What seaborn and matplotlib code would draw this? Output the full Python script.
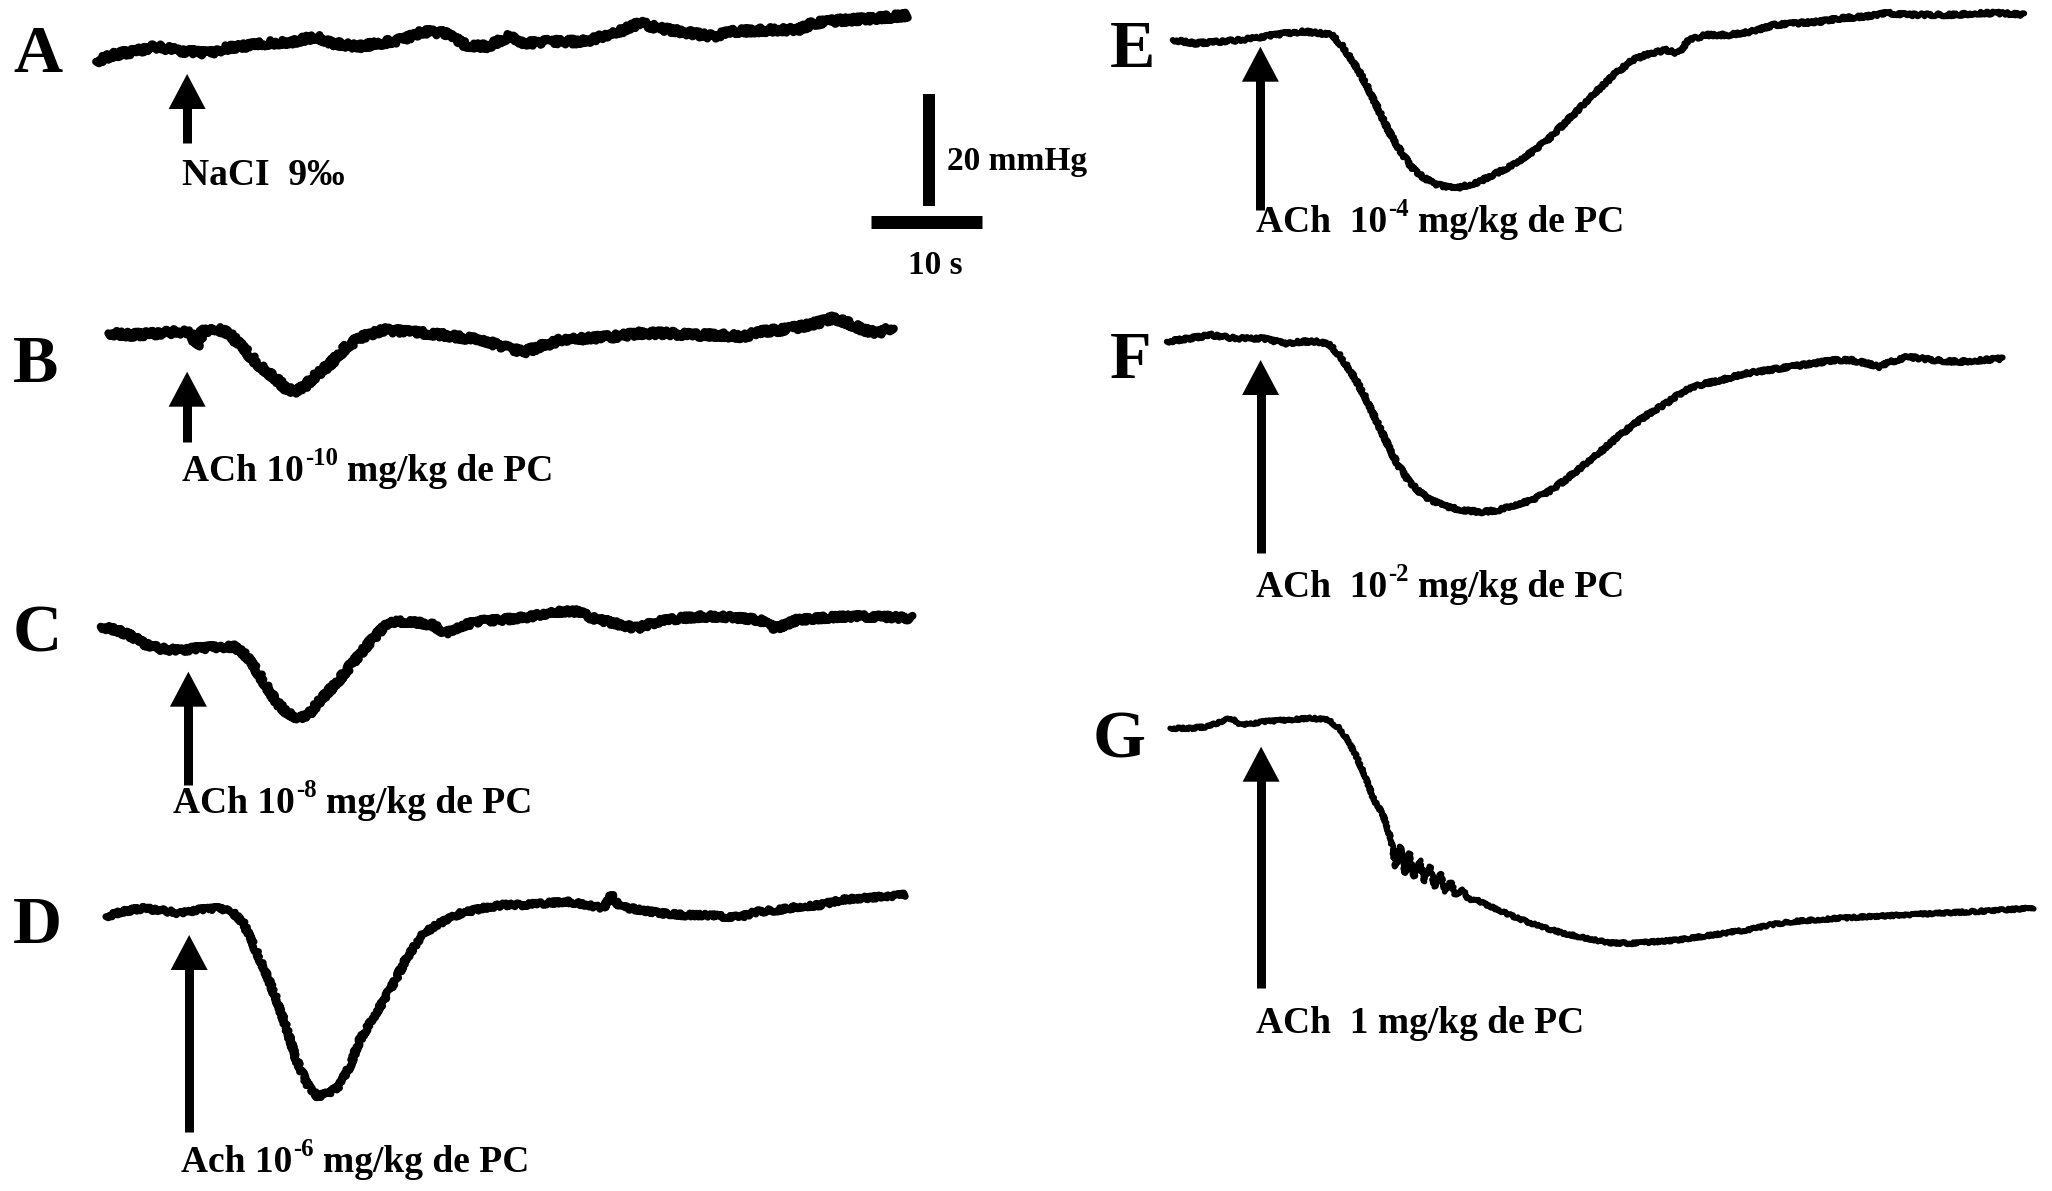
import numpy as np
import pandas as pd
import matplotlib
matplotlib.use("Agg")
import matplotlib.pyplot as plt
from matplotlib.patches import Polygon
from matplotlib.transforms import IdentityTransform
import seaborn as sns

sns.set_theme(style="white")
plt.rcParams["font.family"] = ["Liberation Serif", "DejaVu Serif"]

# ---------------------------------------------------------------------------
# Arterial pressure recordings: time since start of record (s) and
# change of pressure from the first sample (mmHg)
# ---------------------------------------------------------------------------
a_t = [0, 1.44, 3.38, 5.31, 7.23, 8.2, 10.14, 11.58, 13.03, 15.44, 17.86, 19.78,
       21.23, 23.65, 25.58, 27.5, 29.43, 31.37, 33.3, 35.23, 37.16, 38.6, 41.02,
       43.92, 46.81, 48.98, 50.68, 52.61, 55.5, 57.43, 61.29, 63.22, 64.67, 67.08,
       69.97, 73.1]
a_p = [0, 1.2, 1.8, 2.7, 2.1, 1.8, 1.5, 2.4, 2.7, 3.3, 3.6, 4.5, 3.3, 2.7, 3.3,
       3.9, 5.4, 5.1, 3.0, 2.7, 4.5, 3.3, 3.6, 3.6, 5.1, 6.9, 6.0, 5.4, 4.5, 5.4,
       5.7, 5.7, 6.9, 7.4, 7.7, 8.3]

b_t = [0, 2.12, 4.48, 6.36, 7.54, 8.0, 8.48, 9.66, 10.84, 12.02, 13.43, 14.84,
       16.02, 16.73, 17.67, 18.61, 20.03, 21.44, 22.86, 24.74, 26.62, 28.98,
       31.33, 33.69, 36.05, 37.46, 39.34, 40.76, 43.11, 45.47, 47.83, 50.18,
       52.54, 54.9, 57.25, 58.66, 60.55, 62.43, 64.32, 65.26, 66.68, 68.08,
       69.5, 70.68]
b_p = [0, -0.3, 0, 0.3, 0, -2.4, 0.3, 0.9, 0, -2.4, -5.4, -7.7, -9.8, -10.4,
       -9.5, -7.7, -5.4, -2.4, -0.6, 0.6, 0.3, 0, -0.6, -1.2, -2.7, -3.3, -2.1,
       -1.2, -0.9, -0.6, 0, 0, -0.3, -0.3, -0.6, 0.3, 0.6, 1.2, 2.1, 2.7, 1.8,
       0.6, 0, 1.2]

c_t = [0, 1.45, 2.9, 3.87, 5.31, 6.76, 8.68, 10.62, 12.07, 13.04, 14.0, 14.97,
       15.93, 16.89, 17.86, 18.82, 19.79, 21.23, 22.68, 24.13, 25.57, 26.54,
       27.99, 29.92, 31.13, 32.33, 33.78, 35.71, 37.65, 39.57, 41.5, 42.95, 44.4,
       46.33, 48.25, 50.19, 52.12, 54.05, 55.97, 57.91, 59.35, 60.8, 62.73,
       64.66, 66.6, 68.52, 70.45, 73.12]
c_p = [0, -0.6, -1.8, -3.0, -3.9, -4.2, -3.9, -3.6, -3.6, -5.1, -7.7, -10.7,
       -13.7, -15.5, -16.4, -15.5, -13.1, -10.1, -6.5, -3.0, 0, 0.9, 0.9, 0.3,
       -1.2, 0, 0.9, 1.2, 1.5, 2.1, 2.7, 2.7, 1.5, 0.6, -0.3, 0.9, 1.5, 1.8, 1.8,
       1.5, 1.2, -0.3, 1.2, 1.5, 1.8, 1.8, 1.8, 1.5]

d_t = [0, 1.43, 3.33, 4.77, 6.68, 8.11, 10.01, 11.21, 12.4, 13.36, 14.31, 15.27,
       16.21, 17.17, 18.12, 19.07, 20.03, 20.98, 21.94, 22.88, 24.32, 25.75,
       27.18, 28.61, 30.04, 31.95, 33.86, 35.77, 37.67, 39.58, 41.49, 43.39,
       44.82, 45.54, 46.25, 48.16, 50.06, 51.97, 53.88, 55.79, 57.21, 58.64,
       60.55, 62.46, 64.37, 66.28, 68.19, 70.1, 72.0]
d_p = [0, 0.9, 1.5, 1.2, 0.6, 1.2, 1.5, 1.2, -1.2, -5.4, -9.5, -14.3, -19.6,
       -25.6, -29.8, -32.1, -31.5, -30.4, -26.8, -22.0, -17.3, -12.5, -7.1, -3.0,
       -1.2, 0.6, 1.5, 2.1, 2.1, 2.4, 2.7, 2.1, 1.5, 3.9, 1.8, 1.2, 0.6, 0.3, 0.3,
       0, 0, 0.9, 1.2, 1.8, 2.1, 3.0, 3.3, 3.6, 3.9]

e_t = [0, 2.05, 4.09, 6.13, 8.18, 10.23, 11.76, 13.3, 14.32, 15.34, 16.36, 17.38,
       18.4, 19.42, 20.45, 21.47, 22.5, 23.5, 24.54, 25.56, 26.59, 27.61, 29.14,
       30.68, 32.22, 33.75, 35.28, 36.81, 38.34, 39.88, 41.41, 42.95, 44.48,
       45.5, 46.52, 48.05, 50.1, 52.15, 54.2, 56.24, 58.29, 60.34, 62.38, 64.43,
       66.47, 68.52, 70.56, 72.61, 74.65, 76.7]
e_p = [0, -0.6, -0.3, 0, 0.6, 1.2, 1.5, 1.2, 0.9, -1.2, -4.2, -7.7, -11.9, -16.1,
       -19.6, -22.6, -24.4, -25.6, -26.2, -26.5, -25.9, -25.3, -23.8, -22.3,
       -20.2, -17.9, -14.9, -11.9, -8.9, -6.0, -3.6, -2.4, -1.8, -2.4, 0, 0.9,
       0.9, 1.5, 2.7, 3.0, 3.3, 3.9, 4.2, 4.8, 4.5, 4.5, 4.5, 4.8, 4.8, 4.5]

f_t = [0, 2.03, 4.05, 6.07, 8.6, 10.62, 12.14, 13.66, 14.67, 15.68, 16.69, 17.7,
       18.71, 19.72, 20.73, 21.75, 22.76, 23.77, 25.28, 26.8, 28.32, 29.83,
       31.35, 32.86, 34.38, 35.9, 37.41, 38.93, 40.45, 41.96, 43.48, 44.99,
       46.51, 48.03, 50.05, 52.07, 54.09, 56.11, 58.13, 60.15, 61.67, 63.18,
       64.2, 65.21, 66.72, 69.25, 71.27, 73.29, 75.31]
f_p = [0, 0.6, 1.2, 0.6, 0.6, -0.3, 0, 0, -0.6, -2.7, -5.7, -9.2, -13.4, -17.6,
       -21.7, -24.7, -26.8, -28.3, -29.5, -30.1, -30.4, -30.1, -29.2, -28.3,
       -26.8, -24.7, -22.3, -19.9, -17.3, -14.9, -12.8, -11.0, -8.9, -7.7, -6.8,
       -5.7, -5.1, -4.5, -3.9, -3.3, -3.3, -3.9, -4.5, -3.6, -2.7, -3.3, -3.6,
       -3.3, -3.0]

g_t = [0, 1.81, 3.36, 5.43, 6.46, 8.53, 10.6, 12.67, 14.22, 15.25, 16.03, 16.8,
       17.58, 18.36, 19.13, 19.91, 20.32, 20.74, 21.15, 21.56, 21.97, 22.5,
       22.91, 23.43, 23.84, 24.35, 24.77, 25.29, 25.71, 26.37, 26.89, 27.67,
       28.71, 31.29, 33.36, 35.43, 37.5, 39.57, 41.64, 43.71, 45.78, 47.84,
       49.91, 51.99, 54.05, 56.12, 58.18, 60.25, 63.35, 66.46, 69.56, 72.67,
       75.25, 77.81]
g_p = [0, 0, 0.3, 1.8, 0.6, 1.2, 1.5, 1.8, 1.5, 0, -2.1, -5.1, -8.6, -12.8,
       -15.2, -19.9, -24.7, -21.1, -25.9, -22.3, -26.5, -23.5, -27.4, -24.7,
       -28.3, -25.9, -29.2, -27.4, -29.8, -28.9, -30.5, -30.7, -31.7, -33.9,
       -35.4, -36.6, -37.5, -38.3, -38.4, -38.1, -37.8, -37.2, -36.6, -36.0,
       -35.1, -34.5, -34.2, -33.9, -33.6, -33.3, -33.0, -32.7, -32.4, -32.1]

# time of injection after start of each record (s)
injection_s = {"A": 8.2, "B": 7.1, "C": 7.9, "D": 7.5, "E": 7.9, "F": 8.45, "G": 8.2}

# injected substance (^{...} marks the exponent)
labels = {
    "A": "NaCI  9\u2030",
    "B": "ACh 10^{-10} mg/kg de PC",
    "C": "ACh 10^{-8} mg/kg de PC",
    "D": "Ach 10^{-6} mg/kg de PC",
    "E": "ACh  10^{-4} mg/kg de PC",
    "F": "ACh  10^{-2} mg/kg de PC",
    "G": "ACh  1 mg/kg de PC",
}

# calibration bars
SCALE_T = 10    # s
SCALE_P = 20    # mmHg

traces = {"A": (a_t, a_p), "B": (b_t, b_p), "C": (c_t, c_p), "D": (d_t, d_p),
          "E": (e_t, e_p), "F": (f_t, f_p), "G": (g_t, g_p)}

# ---------------------------------------------------------------------------
# page layout (pixels from top-left of the page)
# ---------------------------------------------------------------------------
W, H, DPI = 2052, 1191, 100
PX_PER_S = 11.1
PX_PER_MMHG = 5.6
PT = 72.0 / DPI          # points per pixel

# start of trace, arrow tip/tail, label and letter positions, pen width and
# pen jitter (amplitude, length) in pixels
layout = {
    "A": dict(start=(96.1, 61.7), arrow=(74, 143), label=(182, 185), letter=(13, 72), lw=8, jitter=(3.0, 2.5)),
    "B": dict(start=(108.3, 333.3), arrow=(371.7, 442), label=(182, 481), letter=(13, 382), lw=8, jitter=(3.0, 2.5)),
    "C": dict(start=(100.7, 626.7), arrow=(671.7, 785), label=(173, 813), letter=(13, 652), lw=8, jitter=(2.5, 2.5)),
    "D": dict(start=(105.9, 916.7), arrow=(935, 1132), label=(181, 1172), letter=(13, 943), lw=7, jitter=(2.0, 2.5)),
    "E": dict(start=(1172.7, 40.0), arrow=(46.7, 210), label=(1256, 232), letter=(1110, 67), lw=6, jitter=(1.5, 2.5)),
    "F": dict(start=(1166.8, 341.7), arrow=(360, 553), label=(1256, 597), letter=(1110, 378), lw=6, jitter=(1.5, 2.5)),
    "G": dict(start=(1170.1, 728.3), arrow=(746.7, 988), label=(1256, 1033), letter=(1093, 758), lw=5.5, jitter=(1.2, 2.5)),
}

LABEL_PT = 27
LETTER_PT = 49
SCALE_PT = 24


def to_data(xp, yp):
    return xp / PX_PER_S, -yp / PX_PER_MMHG


fig = plt.figure(figsize=(W / DPI, H / DPI), dpi=DPI, facecolor="white")
ax = fig.add_axes([0, 0, 1, 1])
ax.set_xlim(0, W / PX_PER_S)
ax.set_ylim(-H / PX_PER_MMHG, 0)
ax.axis("off")
renderer = fig.canvas.get_renderer()


def page_text(xp, yp, s, size, **kw):
    return fig.text(xp, H - yp, s, transform=IdentityTransform(), fontsize=size,
                    fontweight="bold", color="black", va="baseline", **kw)


def label_text(xp, yp, s, size):
    """Draw a label that may contain one ^{exponent}."""
    if "^{" in s:
        pre, rest = s.split("^{", 1)
        sup, post = rest.split("}", 1)
    else:
        pre, sup, post = s, "", ""
    size_px = size / PT
    t = page_text(xp, yp, pre, size, ha="left")
    x = t.get_window_extent(renderer).x1
    if sup:
        t = page_text(x + 0.03 * size_px, yp - 0.42 * size_px, sup, size * 0.66, ha="left")
        x = t.get_window_extent(renderer).x1
    if post:
        n_sp = len(post) - len(post.lstrip(" "))
        page_text(x + n_sp * 0.25 * size_px, yp, post.lstrip(" "), size, ha="left")


for key, (t, p) in traces.items():
    lay = layout[key]
    ox, oy = to_data(*lay["start"])
    df = pd.DataFrame({"time": ox + np.asarray(t, float),
                       "pressure": oy + np.asarray(p, float)})
    n_before = len(ax.lines)
    sns.lineplot(data=df, x="time", y="pressure", ax=ax, color="black",
                 linewidth=lay["lw"] * PT, estimator=None, sort=False,
                 solid_joinstyle="round", solid_capstyle="round", legend=False)
    # pen tremor of the chart recorder
    amp, length = lay["jitter"]
    for line in ax.lines[n_before:]:
        line.set_sketch_params(scale=amp, length=length, randomness=6)

    # injection arrow
    xa = ox + injection_s[key]
    tip_px, tail_px = lay["arrow"]
    head_len, head_half, shaft = 35, 18.5, 9
    y_tip = -tip_px / PX_PER_MMHG
    y_base = -(tip_px + head_len) / PX_PER_MMHG
    y_tail = -tail_px / PX_PER_MMHG
    ax.plot([xa, xa], [y_base + 2 / PX_PER_MMHG, y_tail], color="black",
            linewidth=shaft * PT, solid_capstyle="butt")
    ax.add_patch(Polygon([(xa - head_half / PX_PER_S, y_base),
                          (xa + head_half / PX_PER_S, y_base),
                          (xa, y_tip)], closed=True, facecolor="black",
                         edgecolor="none"))

    label_text(*lay["label"], labels[key], LABEL_PT)
    page_text(*lay["letter"], key, LETTER_PT, ha="left")

# calibration bars
hx, hy = to_data(871, 221.5)
ax.plot([hx, hx + SCALE_T], [hy, hy], color="black", linewidth=13 * PT,
        solid_capstyle="butt")
vx, vy = to_data(929, 206)
ax.plot([vx, vx], [vy, vy + SCALE_P], color="black", linewidth=12 * PT,
        solid_capstyle="butt")
page_text(947, 170, f"{SCALE_P} mmHg", SCALE_PT, ha="left")
page_text(935, 274, f"{SCALE_T} s", SCALE_PT, ha="center")

fig.savefig("out.png", dpi=DPI, facecolor="white")
